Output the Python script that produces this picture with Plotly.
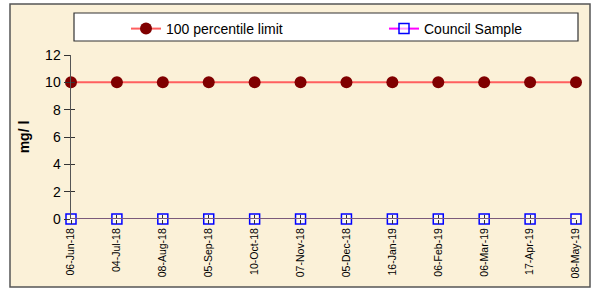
import plotly.graph_objects as go

dates = ["06-Jun-18", "04-Jul-18", "08-Aug-18", "05-Sep-18", "10-Oct-18", "07-Nov-18",
         "05-Dec-18", "16-Jan-19", "06-Feb-19", "06-Mar-19", "17-Apr-19", "08-May-19"]
limit_vals = [10, 10, 10, 10, 10, 10, 10, 10, 10, 10, 10, 10]
council_vals = [0, 0, 0, 0, 0, 0, 0, 0, 0, 0, 0, 0]
y_ticks = [0, 2, 4, 6, 8, 10, 12]

FONT = "Liberation Sans, Arial, sans-serif"

fig = go.Figure()
fig.add_trace(go.Scatter(
    x=dates, y=limit_vals, name="100 percentile limit", mode="lines+markers",
    line=dict(color="#FF5F5F", width=2),
    marker=dict(symbol="circle", size=12, color="#800000", line=dict(width=0)),
    cliponaxis=False, legend="legend",
))
fig.add_trace(go.Scatter(
    x=dates, y=council_vals, name="Council Sample", mode="lines+markers",
    line=dict(color="#FF00FF", width=2),
    marker=dict(symbol="square", size=10, color="rgba(255,255,255,0.6)",
                line=dict(color="#0000FF", width=1.5)),
    cliponaxis=False, legend="legend2",
))
# invisible trace to host overlay axes (crossing tick marks)
fig.add_trace(go.Scatter(x=dates, y=council_vals, xaxis="x2", yaxis="y2",
                         mode="markers", marker=dict(opacity=0), showlegend=False,
                         hoverinfo="skip"))

W, H = 595, 290
PL, PR, PT, PB = 71, 576, 55, 219
L, T = PL, PT
R = W - PR
B = H - PB
pw, ph = PR - PL, PB - PT

def px_x(x):
    return (x - PL) / pw

def px_y(y):
    return (PB - y) / ph

shapes = [
    dict(type="rect", xref="paper", yref="paper", layer="below",
         x0=px_x(10), x1=px_x(590), y0=px_y(287), y1=px_y(4),
         fillcolor="#FBF1D8", line=dict(color="#555555", width=1.5)),
    dict(type="rect", xref="paper", yref="paper", layer="below",
         x0=px_x(74), x1=px_x(578), y0=px_y(41), y1=px_y(13),
         fillcolor="#FFFFFF", line=dict(color="#333333", width=1.2)),
    # x axis line drawn over the zero series
    dict(type="line", xref="paper", yref="y", layer="above",
         x0=0, x1=1, y0=0, y1=0, line=dict(color="#7B5A7B", width=2)),
]

legend_common = dict(orientation="h", xanchor="left", yanchor="top",
                     bgcolor="rgba(0,0,0,0)", borderwidth=0,
                     font=dict(size=14, family=FONT))

fig.update_layout(
    width=W, height=H,
    margin=dict(l=L, r=R, t=T, b=B, autoexpand=False),
    paper_bgcolor="#FFFFFF",
    plot_bgcolor="rgba(0,0,0,0)",
    font=dict(family=FONT, color="#000000"),
    shapes=shapes,
    showlegend=True,
    hovermode=False,
    legend=dict(x=px_x(126), y=px_y(13), **legend_common),
    legend2=dict(x=px_x(384), y=px_y(13), **legend_common),
    xaxis=dict(type="category", range=[0, len(dates) - 1], showgrid=False, zeroline=False,
               showline=False, layer="above traces",
               ticks="outside", ticklen=4, tickcolor="#333333", tickwidth=1,
               tickangle=-90, tickfont=dict(size=10.5, family=FONT)),
    xaxis2=dict(type="category", overlaying="x", matches="x", side="bottom", showgrid=False,
                zeroline=False, showline=False, ticks="inside", ticklen=4,
                tickcolor="#333333", showticklabels=False, layer="above traces",
                anchor="y"),
    yaxis=dict(range=[0, 12], tickvals=y_ticks, showgrid=False, zeroline=False,
               showline=True, linecolor="#555555", linewidth=1.5,
               ticks="outside", ticklen=6, tickcolor="#333333",
               tickfont=dict(size=14, family=FONT),
               title=dict(text="<b>mg/ l</b>", font=dict(size=14, family=FONT), standoff=12)),
    yaxis2=dict(range=[0, 12], tickvals=y_ticks, overlaying="y", side="left", anchor="x",
                showgrid=False, zeroline=False, showline=False, ticks="inside", ticklen=4,
                tickcolor="#333333", showticklabels=False),
)

fig.write_html("out.html", config={"displayModeBar": False, "staticPlot": True},
               post_script="document.body.style.margin='0';document.body.style.overflow='hidden';")
